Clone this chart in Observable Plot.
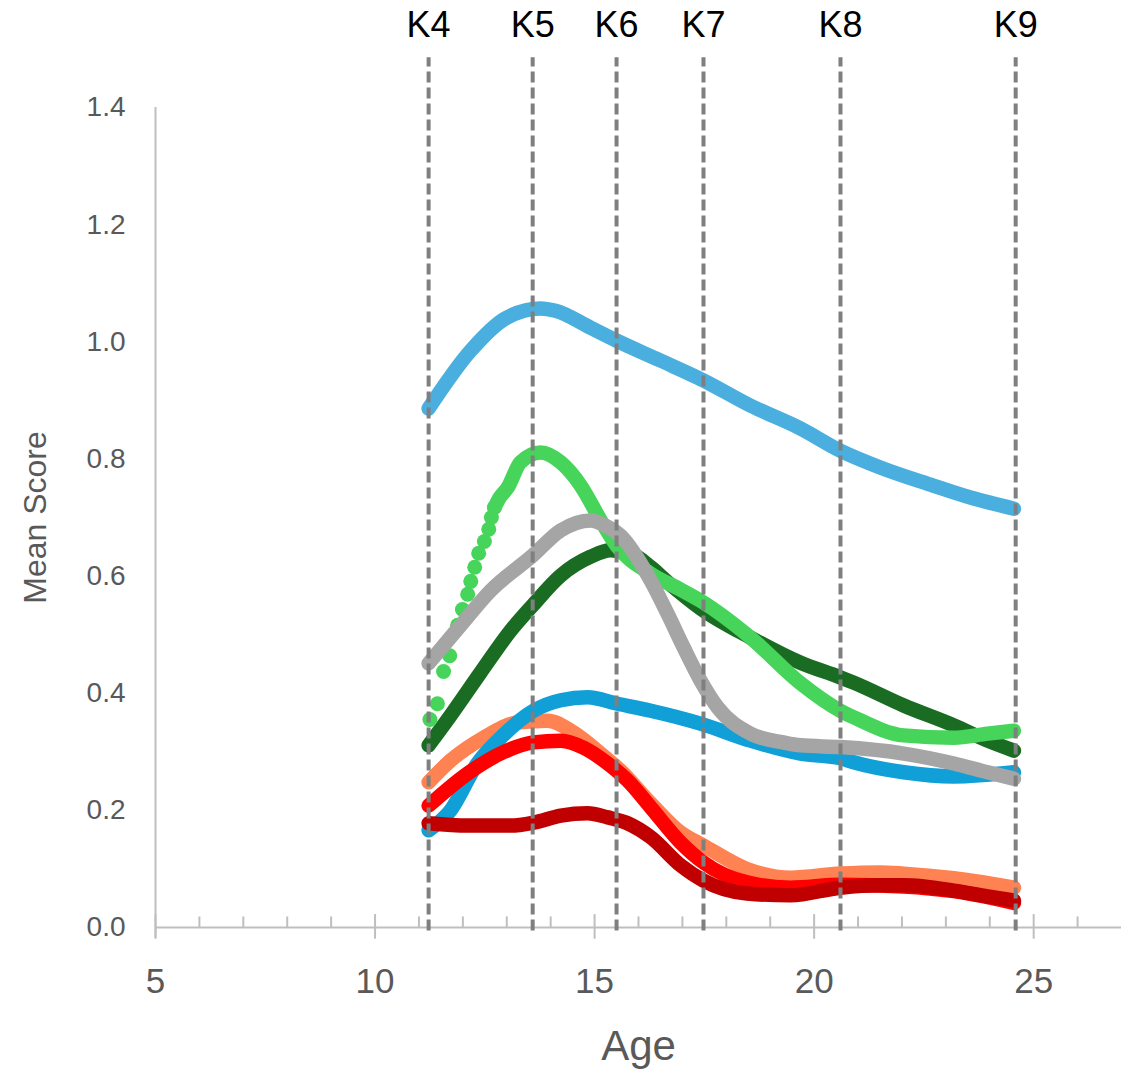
<!DOCTYPE html>
<html>
<head>
<meta charset="utf-8">
<script src="https://cdn.jsdelivr.net/npm/d3@7"></script>
<script src="https://cdn.jsdelivr.net/npm/@observablehq/plot@0.6"></script>
<style>
  html, body { margin: 0; padding: 0; background: #ffffff; }
  #chart { width: 1130px; height: 1069px; }
</style>
</head>
<body>
<div id="chart"></div>
<script>
// ---- Data ----
const waveLabels = ["K4", "K5", "K6", "K7", "K8", "K9"];
const waveAges   = [11.22, 13.59, 15.5, 17.48, 20.6, 24.59];

const xTicks = [5, 10, 15, 20, 25];
const xMinorTicks = [6,7,8,9,11,12,13,14,16,17,18,19,21,22,23,24,26];
const yTicks = [0, 0.2, 0.4, 0.6, 0.8, 1.0, 1.2, 1.4];

const lightBlueAge   = [11.22, 12.18, 12.97, 13.77, 14.11, 14.91, 15.5, 16.5, 17.48, 18.55, 19.69, 20.6, 21.52, 22.65, 23.56, 24.55];
const lightBlueScore = [0.886, 0.985, 1.04, 1.057, 1.053, 1.024, 1.002, 0.968, 0.934, 0.891, 0.852, 0.814, 0.785, 0.756, 0.734, 0.715];

const darkGreenAge   = [11.22, 11.72, 12.4, 13.09, 13.59, 14.23, 14.91, 15.36, 15.82, 16.28, 16.66, 17.41, 18.55, 19.69, 20.6, 20.9, 22.04, 23.18, 23.95, 24.55];
const darkGreenScore = [0.311, 0.362, 0.435, 0.507, 0.55, 0.601, 0.633, 0.644, 0.639, 0.615, 0.59, 0.545, 0.495, 0.452, 0.427, 0.418, 0.379, 0.345, 0.319, 0.302];

// steep early part of the light-green series, where single markers are visible
const greenDotAge   = [11.25, 11.42, 11.56, 11.70, 11.88, 11.99, 12.11, 12.18, 12.27, 12.36, 12.49, 12.59, 12.65, 12.72];
const greenDotScore = [0.355, 0.382, 0.437, 0.464, 0.516, 0.543, 0.569, 0.591, 0.615, 0.639, 0.659, 0.680, 0.700, 0.717];
const greenAge   = [12.72, 12.84, 13.02, 13.31, 13.77, 14.23, 14.68, 15.14, 15.5, 16.28, 16.96, 17.41, 18.55, 19.69, 20.6, 20.9, 22.04, 23.18, 23.95, 24.55];
const greenScore = [0.717, 0.734, 0.751, 0.794, 0.811, 0.794, 0.755, 0.695, 0.652, 0.604, 0.577, 0.558, 0.495, 0.417, 0.37, 0.359, 0.328, 0.324, 0.331, 0.336];

const grayAge   = [11.22, 11.95, 12.63, 13.59, 14.23, 14.91, 15.25, 15.59, 16.28, 16.66, 17.03, 17.41, 17.8, 18.55, 19.3, 19.69, 20.6, 22.04, 23.18, 23.95, 24.55];
const grayScore = [0.451, 0.516, 0.575, 0.635, 0.678, 0.695, 0.686, 0.669, 0.592, 0.536, 0.478, 0.422, 0.376, 0.331, 0.316, 0.311, 0.308, 0.297, 0.28, 0.265, 0.254];

const blueAge   = [11.22, 11.72, 12.33, 12.86, 13.61, 14.23, 14.84, 15.52, 16.28, 17.41, 18.55, 19.69, 20.6, 20.9, 22.04, 23.18, 24.55];
const blueScore = [0.166, 0.2, 0.28, 0.324, 0.37, 0.388, 0.393, 0.382, 0.37, 0.348, 0.319, 0.297, 0.289, 0.282, 0.265, 0.258, 0.265];

const orangeAge   = [11.22, 11.72, 12.47, 13.24, 13.93, 14.52, 15.14, 15.59, 16.28, 16.96, 17.48, 18.47, 19.46, 20.6, 21.5, 22.04, 23.18, 24.55];
const orangeScore = [0.248, 0.285, 0.324, 0.35, 0.353, 0.333, 0.297, 0.268, 0.212, 0.162, 0.14, 0.1, 0.085, 0.092, 0.094, 0.092, 0.084, 0.068];

const redAge   = [11.22, 12.11, 12.86, 13.61, 14.23, 14.75, 15.3, 15.75, 16.28, 16.96, 17.48, 18.47, 19.46, 20.6, 22.04, 23.18, 24.55];
const redScore = [0.208, 0.263, 0.297, 0.316, 0.319, 0.307, 0.28, 0.251, 0.205, 0.145, 0.111, 0.077, 0.068, 0.073, 0.07, 0.062, 0.042];

const darkRedAge   = [11.22, 12.11, 13.09, 13.61, 14.23, 14.84, 15.3, 15.75, 16.28, 16.96, 17.48, 18.47, 19.46, 20.6, 21.5, 22.04, 23.18, 23.95, 24.55];
const darkRedScore = [0.178, 0.174, 0.174, 0.179, 0.191, 0.195, 0.188, 0.178, 0.154, 0.106, 0.08, 0.058, 0.055, 0.068, 0.072, 0.072, 0.063, 0.053, 0.046];

// ---- build tables ----
const toRows = (ages, scores) => ages.map((a, i) => ({age: a, score: scores[i]}));
const series = [
  {rows: toRows(lightBlueAge, lightBlueScore), color: "#4aafdf"},
  {rows: toRows(darkGreenAge, darkGreenScore), color: "#1b6c23"},
  {rows: toRows(greenAge, greenScore),         color: "#47d45b"},
  {rows: toRows(orangeAge, orangeScore),       color: "#ff8352"},
  {rows: toRows(blueAge, blueScore),           color: "#109fd6"},
  {rows: toRows(grayAge, grayScore),           color: "#a5a5a5"},
  {rows: toRows(redAge, redScore),             color: "#ff0000"},
  {rows: toRows(darkRedAge, darkRedScore),     color: "#c00000"}
];
const greenDots = toRows(greenDotAge, greenDotScore);
const waves = waveLabels.map((k, i) => ({label: k, age: waveAges[i]}));

const lineMarks = series.map(s => Plot.line(s.rows, {
  x: "age", y: "score", stroke: s.color, strokeWidth: 14.5,
  strokeLinecap: "round", strokeLinejoin: "round", curve: "monotone-x"
}));

const axisColor = "#bfbfbf";
const textColor = "#595959";
const font = "'Liberation Sans', Arial, sans-serif";

const chart = Plot.plot({
  width: 1130,
  height: 1069,
  marginLeft: 155,
  marginRight: 9,
  marginTop: 107,
  marginBottom: 142,
  x: {domain: [5, 27], axis: null},
  y: {domain: [0, 1.4], axis: null},
  style: {fontFamily: font, background: "#ffffff", color: textColor, overflow: "visible"},
  marks: [
    // axis lines and ticks
    Plot.ruleY([0], {stroke: axisColor, strokeWidth: 2}),
    Plot.ruleX([5], {y1: -0.018, y2: 1.4, stroke: axisColor, strokeWidth: 2}),
    Plot.ruleX(xMinorTicks, {y1: 0, y2: 0.018, stroke: axisColor, strokeWidth: 2}),
    Plot.ruleX(xTicks, {y1: -0.02, y2: 0.022, stroke: axisColor, strokeWidth: 2}),
    Plot.axisX({ticks: xTicks, tickSize: 0, tickPadding: 41, fontSize: 35, label: null, color: textColor}),
    Plot.axisY({ticks: yTicks, tickSize: 0, tickPadding: 30, fontSize: 28, label: null,
                tickFormat: d3.format(".1f"), color: textColor}),
    Plot.text(["Age"], {frameAnchor: "bottom", dy: 132, fontSize: 42, fill: textColor}),
    Plot.text(["Mean Score"], {frameAnchor: "left", textAnchor: "middle", dx: -120, rotate: -90, fontSize: 32, fill: textColor}),
    // series
    ...lineMarks.slice(0, 2),
    Plot.dot(greenDots, {x: "age", y: "score", r: 7.5, fill: "#47d45b"}),
    ...lineMarks.slice(2),
    // wave markers
    Plot.ruleX(waves, {x: "age", y1: -0.006, y2: 1.485, stroke: "#7f7f7f", strokeWidth: 4, strokeDasharray: "11,5", clip: false}),
    Plot.text(waves, {x: "age", y: 1.54, text: "label", fontSize: 36, fill: "#000000", clip: false})
  ]
});

document.getElementById("chart").appendChild(chart);
</script>
</body>
</html>
